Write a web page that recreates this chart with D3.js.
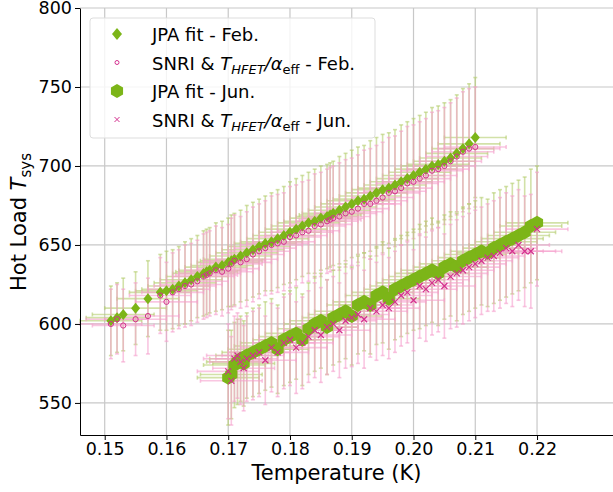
<!DOCTYPE html><html><head><meta charset="utf-8">
<script src="https://cdn.jsdelivr.net/npm/d3@7"></script>
<style>body{margin:0;background:#fff}text{font-family:"DejaVu Sans",sans-serif}</style></head><body>
<svg id="c" width="613" height="492"></svg>
<script>
const febT=[0.151,0.152,0.153,0.155,0.157,0.159,0.160,0.161,0.162,0.163,0.164,0.165,0.166,0.1665,0.167,0.168,0.169,0.170,0.1705,0.171,0.172,0.173,0.174,0.175,0.176,0.177,0.178,0.179,0.180,0.181,0.182,0.183,0.184,0.185,0.186,0.1865,0.187,0.188,0.189,0.190,0.191,0.192,0.193,0.194,0.195,0.196,0.197,0.198,0.199,0.200,0.201,0.202,0.203,0.204,0.205,0.206,0.207,0.208,0.209,0.210];
const febJPA=[602,604,606,610,616,620,621,622,624,626,628,630,632,633,634,636,637,639,640,641,643,645,647,649,651,652,654,656,658,660,662,664,665,667,668,669,670,672,674,676,678,679,681,683,685,686,688,690,692,694,696,698,700,701,703,705,708,711,714,718];
const febSNRI=[600,603,599,603,605,618,614,620,622,624,625,627,630,631,632,634,633,635,638,640,639,641,644,646,648,650,651,652,655,656,658,659,662,663,665,666,667,668,670,671,673,676,676,678,680,683,684,686,689,690,692,694,697,698,700,703,706,709,711,712];
const febErr=[22,22,23,23,24,24,25,25,25,26,26,26,27,27,27,28,28,28,29,29,29,30,30,30,30,31,31,31,32,32,32,32,33,33,33,33,33,34,34,34,34,34,35,35,35,35,35,36,36,36,36,36,37,37,37,37,37,38,38,38];
const junT=[0.170,0.1705,0.171,0.1715,0.172,0.1725,0.173,0.174,0.175,0.176,0.177,0.178,0.179,0.180,0.181,0.182,0.183,0.184,0.185,0.186,0.187,0.188,0.189,0.190,0.191,0.192,0.193,0.194,0.195,0.196,0.197,0.198,0.199,0.200,0.201,0.202,0.203,0.204,0.205,0.206,0.207,0.208,0.209,0.210,0.211,0.212,0.213,0.214,0.215,0.216,0.217,0.218,0.219,0.220];
const junJPA=[566,568,574,576,578,575,580,582,584,586,588,584,590,592,594,590,597,600,602,598,604,606,608,605,612,614,612,618,620,616,622,624,626,628,630,632,634,632,636,638,636,640,642,644,646,645,648,650,652,654,656,658,662,664];
const junSNRI=[570,564,578,580,576,572,578,580,582,577,585,582,588,590,585,588,592,596,593,598,600,596,602,604,606,603,610,608,612,610,614,618,620,615,624,622,626,628,624,630,632,634,636,638,640,642,643,645,648,646,650,646,646,660];
const junErr=[30,28,27,27,27,27,27,28,28,28,28,28,29,29,29,29,29,30,30,30,30,30,30,31,31,31,31,31,32,32,32,32,32,32,33,33,33,33,33,33,34,34,34,34,34,34,35,35,35,35,35,35,36,36];
const xErr=0.005;
const xTicks=[0.15,0.16,0.17,0.18,0.19,0.20,0.21,0.22];
const yTicks=[550,600,650,700,750,800];

const svg=d3.select("#c");
const L=80,R=613,T=8,B=435;
const x=d3.scaleLinear().domain([0.146,0.2323]).range([L,R]);
const y=d3.scaleLinear().domain([529.7,800]).range([B,T]);
const G="#7cb518",P="#d4308f",GE="rgba(180,205,110,0.6)",PE="rgba(245,160,205,0.6)";
svg.append("g").selectAll("line").data(xTicks).join("line").attr("x1",d=>x(d)).attr("x2",d=>x(d)).attr("y1",T).attr("y2",B).attr("stroke","#c8c8c8").attr("stroke-width",1.2);
svg.append("g").selectAll("line").data(yTicks).join("line").attr("y1",d=>y(d)).attr("y2",d=>y(d)).attr("x1",L).attr("x2",R).attr("stroke","#c8c8c8").attr("stroke-width",1.2);
function errs(T_,V,E,col){
  const g=svg.append("g").attr("stroke",col).attr("stroke-width",1.6);
  T_.forEach((t,i)=>{
    const v=V[i],e=E[i];
    g.append("line").attr("x1",x(t)).attr("x2",x(t)).attr("y1",y(v-e)).attr("y2",y(v+e));
    g.append("line").attr("x1",x(t)-2).attr("x2",x(t)+2).attr("y1",y(v-e)).attr("y2",y(v-e));
    g.append("line").attr("x1",x(t)-2).attr("x2",x(t)+2).attr("y1",y(v+e)).attr("y2",y(v+e));
    g.append("line").attr("x1",x(t-xErr)).attr("x2",x(t+xErr)).attr("y1",y(v)).attr("y2",y(v));
    g.append("line").attr("x1",x(t-xErr)).attr("x2",x(t-xErr)).attr("y1",y(v)-2).attr("y2",y(v)+2);
    g.append("line").attr("x1",x(t+xErr)).attr("x2",x(t+xErr)).attr("y1",y(v)-2).attr("y2",y(v)+2);
  });
}
errs(febT,febJPA,febErr,GE);errs(febT,febSNRI,febErr,PE);
errs(junT,junJPA,junErr,GE);errs(junT,junSNRI,junErr,PE);
const diamond="M0,-5.5L4.5,0L0,5.5L-4.5,0Z";
const hex=d3.range(6).map(a=>[7*Math.cos(Math.PI/6+a*Math.PI/3),7*Math.sin(Math.PI/6+a*Math.PI/3)]);
const hexP="M"+hex.join("L")+"Z";
const cross="M-3,-3L3,3M-3,3L3,-3";
svg.append("g").selectAll("path").data(febT).join("path").attr("d",diamond).attr("transform",(d,i)=>`translate(${x(d)},${y(febJPA[i])})`).attr("fill",G);
svg.append("g").selectAll("circle").data(febT).join("circle").attr("cx",d=>x(d)).attr("cy",(d,i)=>y(febSNRI[i])).attr("r",2.6).attr("fill","none").attr("stroke",P).attr("stroke-width",1);
svg.append("g").selectAll("path").data(junT).join("path").attr("d",hexP).attr("transform",(d,i)=>`translate(${x(d)},${y(junJPA[i])})`).attr("fill",G);
svg.append("g").selectAll("path").data(junT).join("path").attr("d",cross).attr("transform",(d,i)=>`translate(${x(d)},${y(junSNRI[i])})`).attr("stroke",P).attr("stroke-width",1.2).attr("fill","none");
const xa=svg.append("g").attr("transform",`translate(0,${B})`).call(d3.axisBottom(x).tickValues(xTicks).tickFormat(d3.format(".2f")).tickSize(5).tickSizeOuter(0));
const ya=svg.append("g").attr("transform",`translate(${L},0)`).call(d3.axisLeft(y).tickValues(yTicks).tickFormat(d3.format("d")).tickSize(5).tickSizeOuter(0));
[xa,ya].forEach(a=>{a.selectAll("text").attr("font-size",17.5).attr("fill","#000").style("font-family","DejaVu Sans");a.selectAll("line,path").attr("stroke","#000").attr("stroke-width",1);});
svg.append("text").attr("x",(L+R)/2-10).attr("y",480).attr("text-anchor","middle").attr("font-size",21).text("Temperature (K)");
const yl=svg.append("text").attr("transform","translate(26,222) rotate(-90)").attr("text-anchor","middle").attr("font-size",21);
yl.append("tspan").text("Hot Load ");yl.append("tspan").attr("font-style","italic").text("T");yl.append("tspan").attr("font-size",15).attr("dy",5).text("sys");
const lg=svg.append("g");
lg.append("rect").attr("x",90).attr("y",18).attr("width",285).attr("height",120).attr("rx",3).attr("fill","rgba(255,255,255,0.8)").attr("stroke","#ddd");
const rows=[["JPA fit - Feb.","d"],["SNRI","c",true,"Feb."],["JPA fit - Jun.","h"],["SNRI","x",true,"Jun."]];
rows.forEach((r,i)=>{
  const yy=34+i*28.5, mx=117;
  if(r[1]=="d")lg.append("path").attr("d","M0,-6L5,0L0,6L-5,0Z").attr("transform",`translate(${mx},${yy})`).attr("fill",G);
  if(r[1]=="c")lg.append("circle").attr("cx",mx).attr("cy",yy).attr("r",2).attr("fill","none").attr("stroke",P);
  if(r[1]=="h")lg.append("path").attr("d",hexP).attr("transform",`translate(${mx},${yy})`).attr("fill",G);
  if(r[1]=="x")lg.append("path").attr("d","M-2.5,-2.5L2.5,2.5M-2.5,2.5L2.5,-2.5").attr("transform",`translate(${mx},${yy})`).attr("stroke",P).attr("fill","none");
  const t=lg.append("text").attr("x",152).attr("y",yy+7).attr("font-size",18);
  if(!r[2])t.text(r[0]);else{
    t.append("tspan").text("SNRI & ");
    t.append("tspan").attr("font-style","italic").text("T");
    t.append("tspan").attr("font-style","italic").attr("font-size",13).attr("dy",4).text("HFET");
    t.append("tspan").attr("dy",-4).attr("font-style","italic").text("/α");
    t.append("tspan").attr("font-size",13).attr("dy",4).text("eff");
    t.append("tspan").attr("dy",-4).text(" - "+r[3]);
  }
});
</script></body></html>
